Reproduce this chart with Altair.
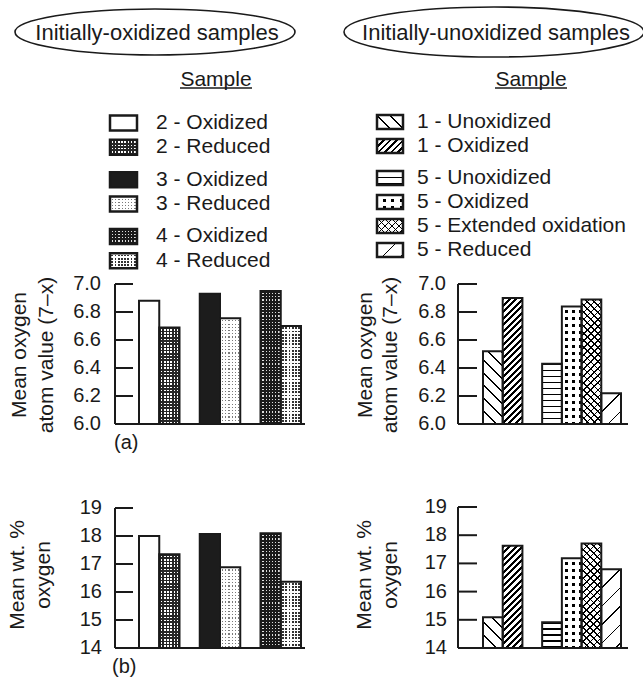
import math
import altair as alt
import pandas as pd

# ---------------- data ----------------
left_samples = ["2 - Oxidized", "2 - Reduced", "3 - Oxidized",
                "3 - Reduced", "4 - Oxidized", "4 - Reduced"]
left_atom = [6.88, 6.69, 6.93, 6.755, 6.95, 6.70]
left_wt = [18.0, 17.35, 18.07, 16.88, 18.1, 16.37]

right_samples = ["1 - Unoxidized", "1 - Oxidized", "5 - Unoxidized",
                 "5 - Oxidized", "5 - Extended oxidation", "5 - Reduced"]
right_atom = [6.52, 6.90, 6.43, 6.84, 6.89, 6.22]
right_wt = [15.09, 17.63, 14.91, 17.18, 17.71, 16.79]

atom_ticks = [6.0, 6.2, 6.4, 6.6, 6.8, 7.0]
wt_ticks = [14, 15, 16, 17, 18, 19]

group_titles = ["Initially-oxidized samples", "Initially-unoxidized samples"]
legend_heading = "Sample"
atom_title = ["Mean oxygen", "atom value (7\u2013x)"]
wt_title = ["Mean wt. %", "oxygen"]
panel_tags = ["(a)", "(b)"]

# ---------------- styling ----------------
FONT = "Liberation Sans"
INK = "#1a1a1a"
CLEAR = "rgba(255,255,255,0)"

FILL_STYLE = {
    "2 - Oxidized": "white",
    "2 - Reduced": "stipple_mid",
    "3 - Oxidized": "#1c1c1c",
    "3 - Reduced": "stipple_light",
    "4 - Oxidized": "stipple_dark",
    "4 - Reduced": "stipple_soft",
    "1 - Unoxidized": "chevron",
    "1 - Oxidized": "hatch",
    "5 - Unoxidized": "wave",
    "5 - Oxidized": "squares",
    "5 - Extended oxidation": "cross",
    "5 - Reduced": "sparse",
}


def stripes(direction, w, h, period, line, ink, gap):
    """Hard-edged linear gradient that paints parallel lines inside a w x h box."""
    if direction == "-":
        x1, y1, x2, y2, length = 0, 0, 0, 1, h
    elif direction == "|":
        x1, y1, x2, y2, length = 0, 0, 1, 0, w
    else:
        k = (w + h) / (w * w + h * h)
        length = (w + h) / math.sqrt(2)
        if direction == "/":
            x1, y1, x2, y2 = 0, 0, k * w, k * h
        else:
            x1, y1, x2, y2 = 0, 1, k * w, 1 - k * h
    n = length / period
    f = line / period
    stops = []
    i = 0
    while i < n:
        a = round(i / n, 5)
        b = round(min((i + f) / n, 1), 5)
        c = round(min((i + 1) / n, 1), 5)
        stops += [{"offset": a, "color": ink}, {"offset": b, "color": ink}]
        if b < 1:
            stops += [{"offset": b, "color": gap}, {"offset": c, "color": gap}]
        i += 1
    return {"gradient": "linear", "x1": x1, "y1": y1, "x2": x2, "y2": y2,
            "stops": stops}


def dot_grid(w, h, base, cover, period, hole):
    """Base colour shows only through square holes left by two crossed line sets."""
    return [base,
            stripes("-", w, h, period, period - hole, cover, CLEAR),
            stripes("|", w, h, period, period - hole, cover, CLEAR)]


def fills(style, w, h):
    if style == "stipple_mid":
        return dot_grid(w, h, "white", "#262626", 3.2, 1.6)
    if style == "stipple_dark":
        return dot_grid(w, h, "#dddddd", "#1a1a1a", 3.2, 1.25)
    if style == "stipple_soft":
        return dot_grid(w, h, "#333333", "white", 3.2, 1.8)
    if style == "stipple_light":
        return dot_grid(w, h, "#7a7a7a", "white", 3.2, 1.15)
    if style == "hatch":
        return [stripes("/", w, h, 4.6, 2.0, "black", "white")]
    if style == "cross":
        return ["white",
                stripes("/", w, h, 5.0, 1.2, "black", CLEAR),
                stripes("\\", w, h, 5.0, 1.2, "black", CLEAR)]
    if style == "squares":
        return ["black",
                stripes("-", w, h, 7.0, 4.0, "white", CLEAR),
                stripes("|", w, h, w / 3, w / 3 - 3, "white", CLEAR)]
    if style == "chevron":
        return ["white", stripes("\\", w, h, 9.0, 1.3, "black", CLEAR)]
    if style == "wave":
        return ["white", stripes("-", w, h, 6.0, 1.3, "black", CLEAR)]
    if style == "sparse":
        return ["white", stripes("/", w, h, 13.0, 1.1, "black", CLEAR)]
    return [style]


def txt(**kw):
    base = dict(font=FONT, color=INK, fontSize=20)
    base.update(kw)
    return base


def panel(samples, values, ticks, fmt, g, xdom, titles, tag=None):
    df = pd.DataFrame({"sample": samples, "value": values})
    lo, hi = ticks[0], ticks[-1]
    xs = alt.Scale(domain=xdom, range=list(g["xr"]), paddingInner=0, paddingOuter=0)
    ys = alt.Scale(domain=[lo, hi], range=list(g["yr"]), nice=False, zero=False)
    X = alt.X("sample:N", scale=xs, axis=None)
    Y = alt.Y("value:Q", scale=ys, axis=None)
    bw = (g["xr"][1] - g["xr"][0]) / len(xdom)
    ppu = (g["yr"][0] - g["yr"][1]) / (hi - lo)

    layers = []
    for s, v in zip(samples, values):
        for f in fills(FILL_STYLE[s], bw, (v - lo) * ppu):
            layers.append(
                alt.Chart(df).transform_filter(alt.datum.sample == s)
                .mark_bar(fill=f, strokeWidth=0)
                .encode(x=X, y=Y, y2=alt.datum(lo))
            )
    layers.append(
        alt.Chart(df).mark_bar(fillOpacity=0, stroke=INK, strokeWidth=2)
        .encode(x=X, y=Y, y2=alt.datum(lo))
    )

    tdf = pd.DataFrame({"v": ticks})
    TY = alt.Y("v:Q", scale=ys, axis=None)
    # axis spine and baseline
    layers.append(
        alt.Chart(tdf).mark_rule(color=INK, strokeWidth=2)
        .encode(x=alt.value(g["axis_x"]), y=alt.Y("min(v):Q", scale=ys, axis=None),
                y2=alt.Y2("max(v):Q"))
    )
    layers.append(
        alt.Chart(tdf).mark_rule(color=INK, strokeWidth=2)
        .encode(y=alt.Y("min(v):Q", scale=ys, axis=None),
                x=alt.value(g["axis_x"]), x2=alt.value(g["base_x2"]))
    )
    # inward tick marks and labels
    layers.append(
        alt.Chart(tdf).mark_rule(color=INK, strokeWidth=2)
        .encode(y=TY, x=alt.value(g["axis_x"]), x2=alt.value(g["tick_x2"]))
    )
    layers.append(
        alt.Chart(tdf).mark_text(**txt(align="right", baseline="middle"))
        .encode(y=TY, x=alt.value(g["label_x"]), text=alt.Text("v:Q", format=fmt))
    )
    # two-line rotated axis title
    for t, tx in zip(titles, g["title_x"]):
        layers.append(
            alt.Chart(pd.DataFrame({"t": [t]}))
            .mark_text(**txt(fontSize=21, angle=270, align="center", baseline="middle"))
            .encode(x=alt.value(tx), y=alt.value(g["title_y"]), text="t:N")
        )
    if tag:
        layers.append(
            alt.Chart(pd.DataFrame({"t": [tag]}))
            .mark_text(**txt(align="left", baseline="middle"))
            .encode(x=alt.value(g["tag_xy"][0]), y=alt.value(g["tag_xy"][1]), text="t:N")
        )
    return alt.layer(*layers)


def legend(samples, slots, step, first_y, sw_x, sw_w, sw_h, text_x):
    # band slots; unused slots leave the gaps between sample groups
    dom = [f"\u00b7{i}" for i in range(slots[-1] + 1)]
    for s, i in zip(samples, slots):
        dom[i] = s
    top = first_y - step / 2
    ys = alt.Scale(domain=dom, range=[top, top + step * len(dom)],
                   paddingInner=0, paddingOuter=0)
    df = pd.DataFrame({"sample": samples})
    Y = alt.Y("sample:N", scale=ys, axis=None)
    layers = []
    for s in samples:
        for f in fills(FILL_STYLE[s], sw_w, sw_h):
            layers.append(
                alt.Chart(df).transform_filter(alt.datum.sample == s)
                .mark_bar(height=sw_h, fill=f, strokeWidth=0)
                .encode(y=Y, x=alt.value(sw_x), x2=alt.value(sw_x + sw_w))
            )
    layers.append(
        alt.Chart(df).mark_bar(height=sw_h, fillOpacity=0, stroke=INK, strokeWidth=2.5)
        .encode(y=Y, x=alt.value(sw_x), x2=alt.value(sw_x + sw_w))
    )
    layers.append(
        alt.Chart(df).mark_text(**txt(fontSize=21, align="left", baseline="middle"))
        .encode(y=Y, x=alt.value(text_x), text="sample:N")
    )
    return alt.layer(*layers)


def header(title, cx, cy, rx, ry, sample_x, rule_x):
    df = pd.DataFrame({"t": [title], "h": [legend_heading]})
    r = ry / rx
    oval = f"M-1,0A1,{r:.4f} 0 1,1 1,0A1,{r:.4f} 0 1,1 -1,0Z"
    return alt.layer(
        alt.Chart(df).mark_point(shape=oval, size=(2 * rx) ** 2, filled=False,
                                 stroke=INK, strokeWidth=1.6, opacity=1)
        .encode(x=alt.value(cx), y=alt.value(cy)),
        alt.Chart(df).mark_text(**txt(fontSize=22, align="center", baseline="alphabetic"))
        .encode(x=alt.value(cx + 2), y=alt.value(cy + 8), text="t:N"),
        alt.Chart(df).mark_text(**txt(fontSize=21, align="center", baseline="alphabetic"))
        .encode(x=alt.value(sample_x), y=alt.value(86), text="h:N"),
        alt.Chart(df).mark_rule(color=INK, strokeWidth=1.4)
        .encode(x=alt.value(rule_x[0]), x2=alt.value(rule_x[1]), y=alt.value(88)),
    )


L_DOM = [left_samples[0], left_samples[1], " ", left_samples[2], left_samples[3],
         "  ", left_samples[4], left_samples[5]]
R_DOM = [right_samples[0], right_samples[1], " "] + right_samples[2:]

geo_atom_l = dict(xr=(139, 301), yr=(424, 284), axis_x=115, tick_x2=133, base_x2=305,
                  label_x=101, title_x=(20, 47), title_y=355, tag_xy=(114, 443))
geo_atom_r = dict(xr=(483, 621), yr=(424, 284), axis_x=458, tick_x2=477, base_x2=628,
                  label_x=446, title_x=(366, 391), title_y=355)
geo_wt_l = dict(xr=(139, 301), yr=(648, 508), axis_x=115, tick_x2=133, base_x2=305,
                label_x=102, title_x=(18, 44), title_y=575, tag_xy=(112, 667))
geo_wt_r = dict(xr=(483, 621), yr=(648, 507), axis_x=458, tick_x2=477, base_x2=628,
                label_x=447, title_x=(365, 391), title_y=575)

chart = alt.layer(
    header(group_titles[0], 155, 32, 140, 23, 216, (180, 252)),
    header(group_titles[1], 494, 32, 150, 25, 531, (495, 567)),
    legend(left_samples, [0, 3, 7, 10, 14, 17], 8.1, 123, 110, 27, 15, 156),
    legend(right_samples, [0, 3, 7, 10, 13, 16], 8.0, 122, 377, 26, 14, 417),
    panel(left_samples, left_atom, atom_ticks, ".1f", geo_atom_l, L_DOM, atom_title, panel_tags[0]),
    panel(right_samples, right_atom, atom_ticks, ".1f", geo_atom_r, R_DOM, atom_title),
    panel(left_samples, left_wt, wt_ticks, "d", geo_wt_l, L_DOM, wt_title, panel_tags[1]),
    panel(right_samples, right_wt, wt_ticks, "d", geo_wt_r, R_DOM, wt_title),
).resolve_scale(
    x="independent", y="independent"
).properties(
    width=643, height=679, padding=0, autosize="none", background="white"
).configure_view(strokeWidth=0)

chart.save("out.html", embed_options={"renderer": "svg", "actions": False})
